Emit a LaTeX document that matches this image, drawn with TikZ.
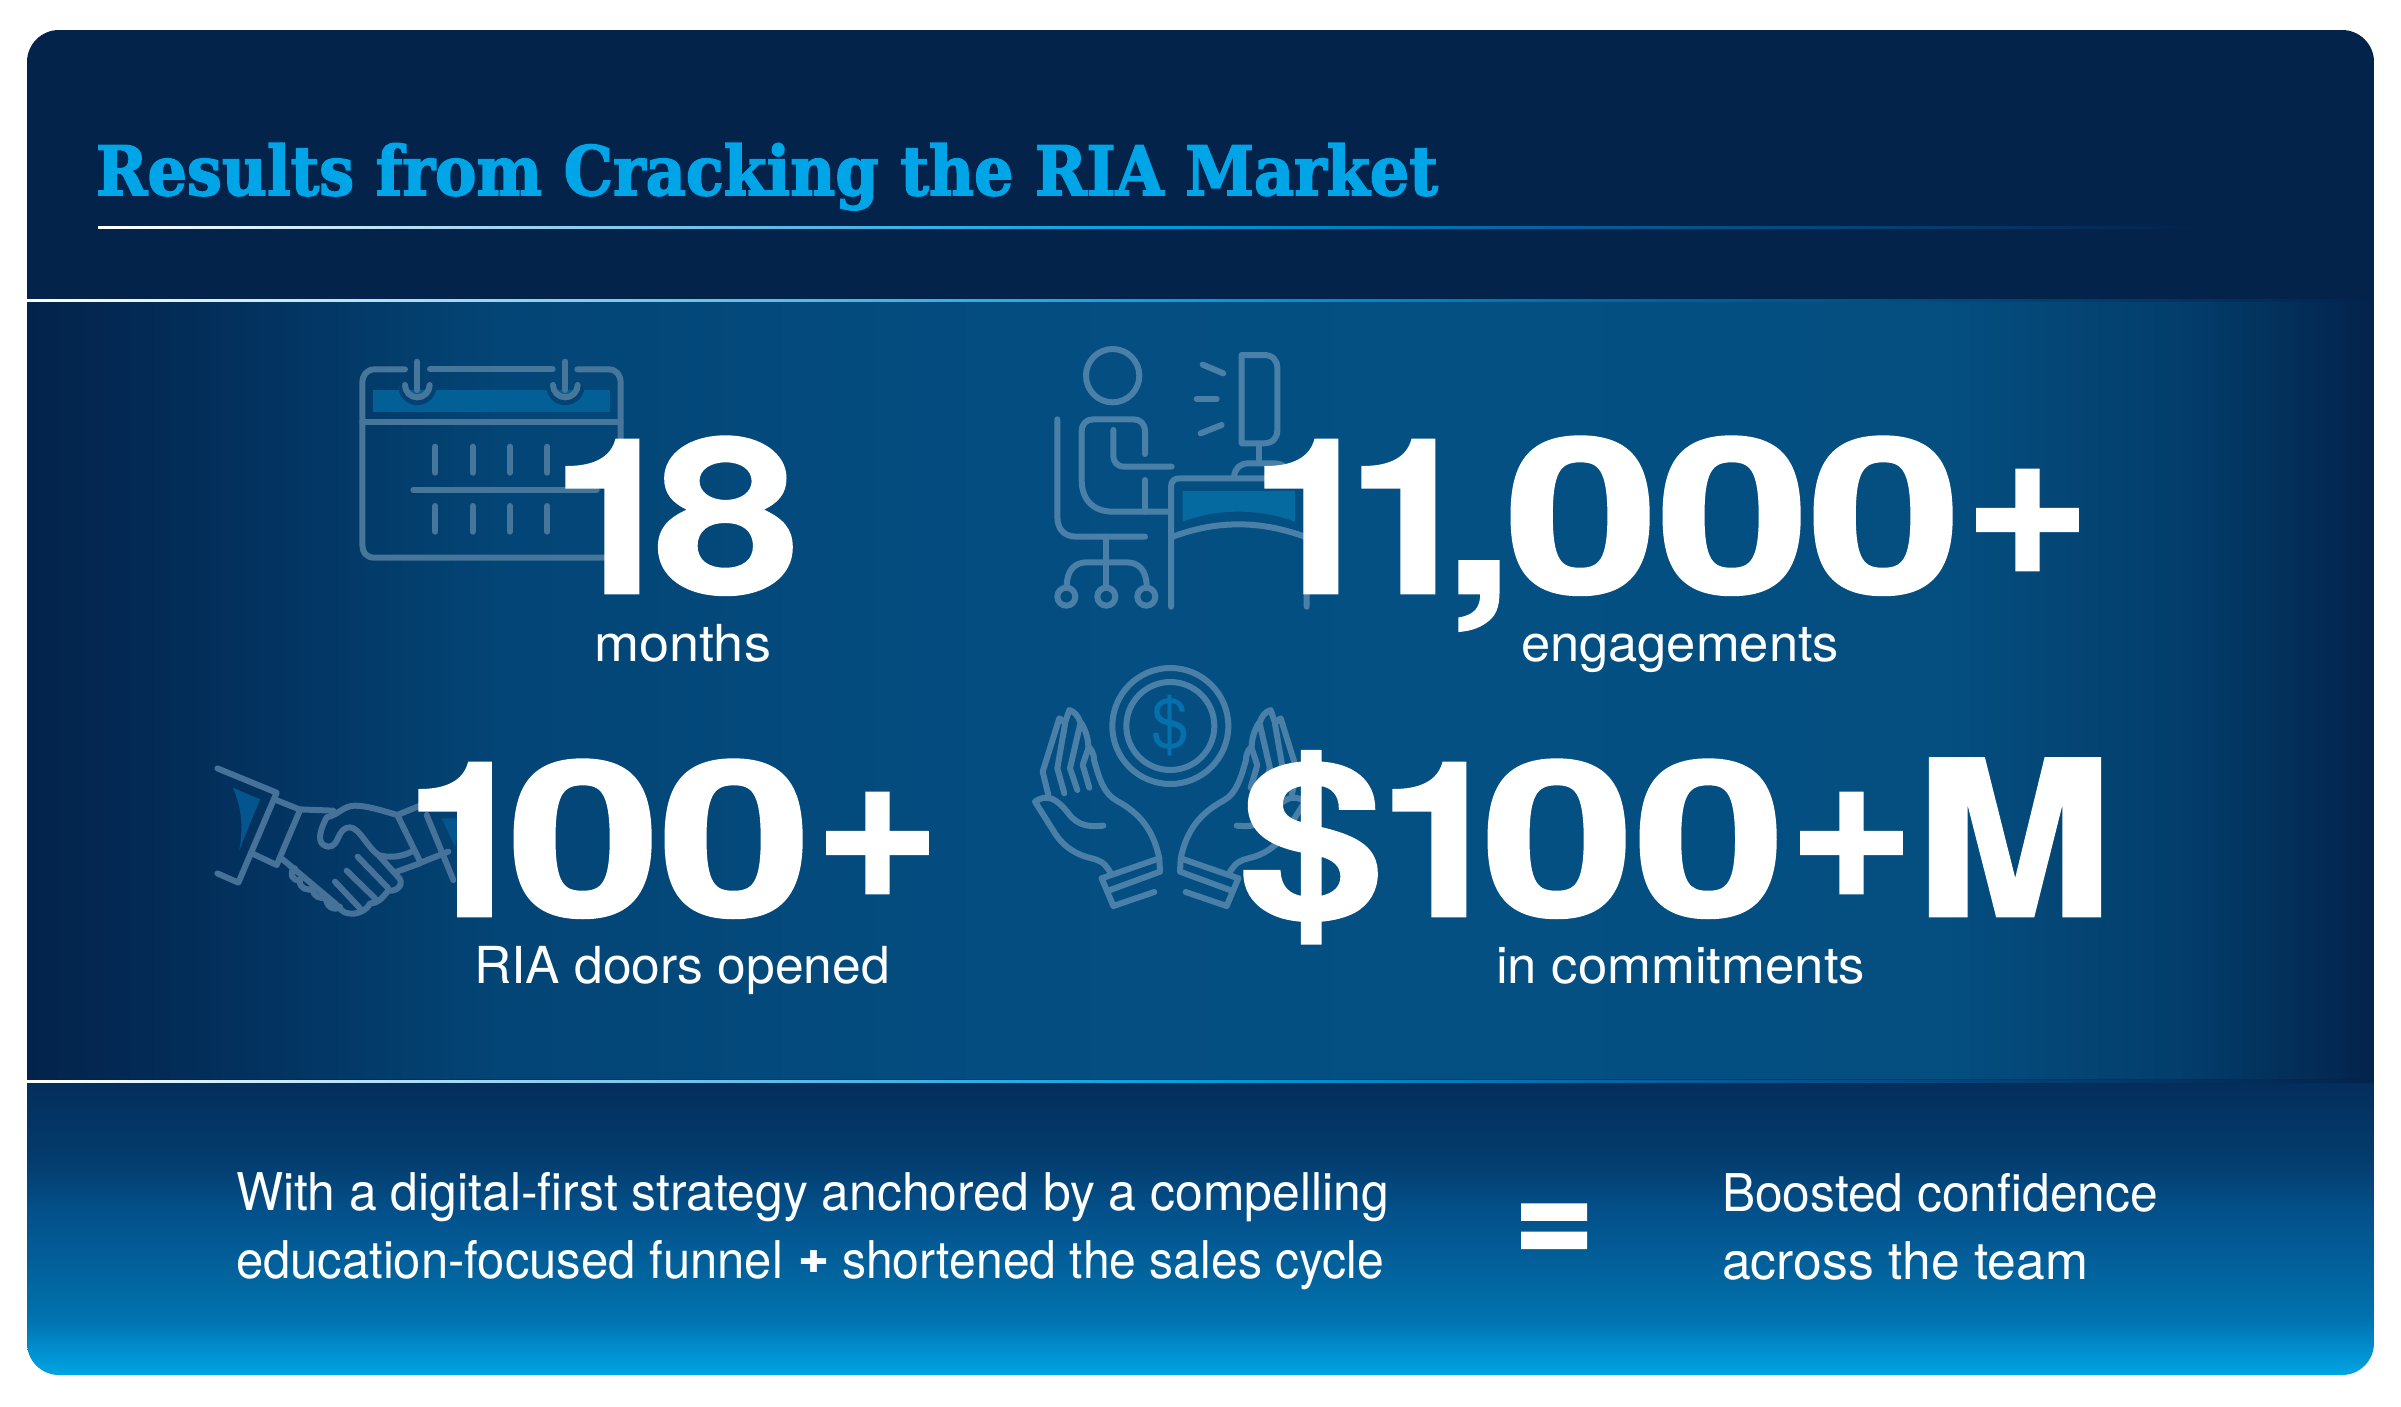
\documentclass[tikz,border=0pt]{standalone}
\usepackage{graphicx}
\usepackage{fontspec}
\setmainfont{TeX Gyre Heros}
\newfontfamily\bignum{TeX Gyre Heros}[BoldFeatures={FakeBold=1.2}]
\newfontfamily\titlef{DejaVu Serif}[BoldFeatures={FakeBold=2.5}]
\newfontfamily\symf{DejaVu Sans}
\usetikzlibrary{calc}
\definecolor{navy}{HTML}{03234B}
\definecolor{sky}{HTML}{00A5E8}
\definecolor{iconA}{HTML}{47769B}
\definecolor{iconB}{HTML}{4A80A8}
\definecolor{iconC}{HTML}{46729A}
\pgfdeclarehorizontalshading{midband}{100bp}{
 rgb(0bp)=(0.012,0.137,0.294);
 rgb(25bp)=(0.012,0.137,0.294);
 rgb(28bp)=(0.012,0.17,0.34);
 rgb(35bp)=(0.012,0.27,0.46);
 rgb(45bp)=(0.016,0.30,0.50);
 rgb(55bp)=(0.016,0.315,0.515);
 rgb(66bp)=(0.016,0.305,0.50);
 rgb(71bp)=(0.012,0.24,0.42);
 rgb(75bp)=(0.012,0.137,0.294);
 rgb(100bp)=(0.012,0.137,0.294)}
\pgfdeclareverticalshading{lowband}{100bp}{
 rgb(0bp)=(0,0.647,0.894);
 rgb(25bp)=(0,0.647,0.894);
 rgb(31bp)=(0.008,0.522,0.772);
 rgb(34.4bp)=(0,0.451,0.69);
 rgb(41.4bp)=(0.008,0.396,0.624);
 rgb(53bp)=(0.012,0.314,0.541);
 rgb(61.7bp)=(0.012,0.235,0.427);
 rgb(75bp)=(0.012,0.18,0.36);
 rgb(100bp)=(0.012,0.18,0.36)}
\pgfdeclarehorizontalshading{rulefade}{100bp}{
 rgb(0bp)=(1,1,1);
 rgb(25bp)=(1,1,1);
 rgb(39bp)=(0.45,0.76,0.92);
 rgb(50bp)=(0,0.62,0.88);
 rgb(60bp)=(0.02,0.37,0.62);
 rgb(75bp)=(0.012,0.137,0.294);
 rgb(100bp)=(0.012,0.137,0.294)}
\newsavebox\fitbox
\newcommand\fitto[2]{\sbox\fitbox{#2}\pgfmathsetmacro\fitr{#1/\the\wd\fitbox}\scalebox{\fitr}[1]{\usebox\fitbox}}
% one glyph of a big figure, its ink set between #1 and #2 from the node's origin
\def\bS{216}
\newcommand\gl[5]{\pgfmathsetmacro\gs{(#2-#1)/((#4-#3)/1000*\bS)}\pgfmathsetmacro\go{#1-#3/1000*\bS*\gs}\rlap{\kern\go pt\scalebox{\gs}[1]{#5}}}
\newcommand\gOne[2]{\gl{#1}{#2}{69}{378}{1}}
\newcommand\gZero[2]{\gl{#1}{#2}{32}{524}{0}}
\newcommand\gEight[2]{\gl{#1}{#2}{28}{528}{8}}
\newcommand\gComma[2]{\gl{#1}{#2}{64}{214}{,}}
\newcommand\gPlus[2]{\gl{#1}{#2}{39}{545}{\raisebox{19pt}{+}}}
\newcommand\gDollar[2]{\gl{#1}{#2}{30}{526}{\$}}
\newcommand\gEm[2]{\gl{#1}{#2}{69}{765}{M}}
\tikzset{
 txt/.style={anchor=base west,inner sep=0pt,outer sep=0pt,text=white},
 bignr/.style={txt,font=\bignum\bfseries\fontsize{216}{216}\selectfont},
 label/.style={txt,font=\fontsize{51}{51}\selectfont},
 body/.style={txt,font=\fontsize{52}{52}\selectfont},
 icon/.style={line width=6pt,line cap=round,line join=round,fill=none},
 zoomed/.style={x=0.33333pt,y=-0.33333pt}
}
\newcommand\handshape{%
 \draw[icon,draw=iconB] (418,625) .. controls (400,540) and (360,490) .. (290,452) .. controls (250,430) and (238,385) .. (222,330) .. controls (222,305) and (210,295) .. (205,290) .. controls (205,260) and (190,225) .. (180,215) .. controls (175,200) and (165,185) .. (148,180) -- (135,218) -- (118,205) -- (68,365) -- (85,435);
 \draw[icon,draw=iconB] (133,430) -- (112,355) -- (135,222);
 \draw[icon,draw=iconB] (172,420) -- (150,355) -- (180,225);
 \draw[icon,draw=iconB] (208,413) -- (188,345) -- (205,295);
 \draw[icon,draw=iconB] (270,665) .. controls (250,635) and (240,632) .. (215,625) .. controls (170,615) and (130,590) .. (105,550) -- (45,455) .. controls (80,430) and (110,445) .. (145,490) .. controls (175,530) and (210,530) .. (250,527);
 \draw[icon,draw=iconB] (245,685) -- (418,625) -- (420,665) -- (265,722);
 \draw[icon,draw=iconB] (245,685) -- (280,768) -- (403,726);
}
\begin{document}
\begin{tikzpicture}[x=1pt,y=-1pt]
\useasboundingbox (0,0) rectangle (2401,1406);
\fill[white] (0,0) rectangle (2401,1406);
\begin{scope}
 \clip[rounded corners=32pt] (27,30) rectangle (2374,1375);
 \fill[navy] (27,30) rectangle (2374,301);
 \shade[shading=midband] (27,300) rectangle (2374,1080);
 \shade[shading=lowband] (27,1081) rectangle (2374,1375);
 \fill[navy,opacity=0.55] (27,1078.5) rectangle (2374,1081);
 \shade[shading=rulefade] (27,299) rectangle (2374,301);
 \shade[shading=rulefade] (27,1080.7) rectangle (2374,1082.7);
\end{scope}
\shade[shading=rulefade] (98,226) rectangle (2200,228);

% calendar
\begin{scope}[shift={(330,330)},zoomed]
 \fill[fill={rgb,255:red,3;green,96;blue,150}] (128,180) rectangle (840,245);
 \foreach \rx in {262,706}{
  \draw[line width=5pt,draw={rgb,255:red,3;green,66;blue,115}] (\rx-50,168) arc[start angle=180,end angle=0,radius=50];
  \draw[icon,draw=iconA] (\rx-37,165) arc[start angle=180,end angle=0,radius=37];
  \draw[icon,draw=iconA] (\rx,95) -- (\rx,180);
 }
 \draw[icon,draw=iconA] (225,118) -- (135,118) .. controls (110,118) and (97,135) .. (97,160) -- (97,640) .. controls (97,670) and (110,683) .. (135,683) -- (830,683) .. controls (860,683) and (872,670) .. (872,640) -- (872,160) .. controls (872,135) and (860,118) .. (835,118) -- (742,118);
 \draw[icon,draw=iconA] (300,118) -- (668,118);
 \draw[icon,draw=iconA] (97,275) -- (872,275);
 \draw[icon,draw=iconA] (250,480) -- (800,480);
 \foreach \tx in {316,428,540,652}{
  \draw[icon,draw=iconA] (\tx,350) -- (\tx,428);
  \draw[icon,draw=iconA] (\tx,528) -- (\tx,605);
 }
\end{scope}

% person at desk
\begin{scope}[shift={(1030,330)},zoomed]
 \fill[fill={rgb,255:red,5;green,106;blue,160}] (458,483) -- (795,483) -- (795,575) .. controls (690,535) and (560,535) .. (458,575) -- cycle;
 \draw[icon,draw=iconB] (248,137) circle[radius=80];
 \draw[icon,draw=iconB] (82,268) -- (82,560) .. controls (82,600) and (105,620) .. (140,620) -- (345,620);
 \draw[icon,draw=iconB] (345,372) -- (345,305) .. controls (345,280) and (330,268) .. (310,268) -- (190,268) .. controls (170,268) and (155,280) .. (155,305) -- (155,450) .. controls (155,510) and (190,545) .. (250,545) -- (420,545);
 \draw[icon,draw=iconB] (250,300) -- (250,375) .. controls (250,398) and (262,410) .. (285,410) -- (425,410);
 \draw[icon,draw=iconB] (345,450) -- (345,545);
 \draw[icon,draw=iconB] (228,620) -- (228,770);
 \draw[icon,draw=iconB] (110,770) .. controls (110,720) and (135,697) .. (170,697) -- (290,697) .. controls (325,697) and (350,720) .. (350,770);
 \foreach \wx in {109,229,349} \draw[icon,draw=iconB] (\wx,800) circle[radius=27];
 \draw[icon,draw=iconB] (423,830) -- (423,470) .. controls (423,453) and (433,445) .. (450,445) -- (805,445) .. controls (822,445) and (830,453) .. (830,470) -- (830,830);
 \draw[icon,draw=iconB] (423,622) .. controls (560,570) and (690,570) .. (830,622);
 \draw[icon,draw=iconB] (612,440) .. controls (615,415) and (630,400) .. (655,400) -- (730,400) .. controls (760,400) and (775,415) .. (780,440);
 \draw[icon,draw=iconB] (688,345) -- (688,400);
 \draw[icon,draw=iconB] (635,75) -- (700,75) .. controls (728,75) and (742,90) .. (742,115) -- (742,300) .. controls (742,325) and (728,340) .. (700,340) -- (635,340) -- cycle;
 \draw[icon,draw=iconB] (518,104) -- (580,130);
 \draw[icon,draw=iconB] (500,207) -- (560,207);
 \draw[icon,draw=iconB] (512,310) -- (575,285);
\end{scope}

% handshake
\begin{scope}[shift={(200,740)},zoomed]
 \fill[fill={rgb,255:red,4;green,85;blue,142}] (98,143) -- (180,178) -- (118,330) .. controls (130,260) and (125,200) .. (98,143) -- cycle;
 \fill[fill={rgb,255:red,4;green,85;blue,142}] (725,235) -- (790,235) -- (765,320) -- cycle;
 \draw[icon,draw=iconC] (52,85) -- (230,158) -- (115,428) -- (52,400);
 \draw[icon,draw=iconC] (160,342) -- (230,375) -- (298,215);
 \draw[icon,draw=iconC] (228,180) -- (298,208) -- (400,212);
 \draw[icon,draw=iconC] (592,225) -- (662,368) -- (745,335);
 \draw[icon,draw=iconC] (680,225) -- (760,420);
 \draw[icon,draw=iconC] (592,225) -- (665,195);
 \draw[icon,draw=iconC] (592,225) .. controls (540,210) and (500,197) .. (465,197) .. controls (430,197) and (415,225) .. (380,232) .. controls (355,280) and (350,315) .. (385,320) .. controls (420,320) and (410,262) .. (450,262) .. controls (480,265) and (500,320) .. (535,345) -- (598,415) .. controls (612,435) and (590,455) .. (565,452) .. controls (545,475) and (535,490) .. (510,490) .. controls (500,512) and (470,525) .. (445,520) .. controls (430,520) and (420,505) .. (405,490);
 \draw[icon,draw=iconC] (248,358) -- (405,490);
 \draw[icon,draw=iconC] (473,350) -- (565,445);
 \draw[icon,draw=iconC] (440,392) -- (525,475);
 \draw[icon,draw=iconC] (405,425) -- (480,505);
 \draw[icon,draw=iconC] (535,345) .. controls (570,355) and (605,350) .. (635,335);
 \draw[icon,draw=iconC] (590,395) -- (660,370);
 \draw[icon,draw=iconC] (285,385) .. controls (265,395) and (275,425) .. (300,420) .. controls (295,445) and (325,455) .. (340,445) .. controls (335,470) and (365,480) .. (378,470) .. controls (375,500) and (405,515) .. (420,500);
\end{scope}

% hands with coin
\begin{scope}[shift={(1020,650)},zoomed]
 \draw[icon,draw=iconB] (451,228) circle[radius=174];
 \draw[icon,draw=iconB] (451,228) circle[radius=132];
 \node[anchor=center,inner sep=0pt,text={rgb,255:red,6;green,112;blue,172},font=\fontsize{68}{68}\selectfont] (coinsign) at (451,228) {\$};
 \handshape
 \begin{scope}[shift={(900,0)},xscale=-1]
  \handshape
 \end{scope}
\end{scope}

% big figures
\node[bignr] (n18) at (550,593) {\gOne{17}{88}\gEight{111}{242}\kern242pt};
\node[bignr] (n11k) at (1250,593) {\gOne{16}{87}\gOne{113}{184}\gComma{210}{248}\gZero{263}{400}\gZero{415}{551}\gZero{566}{703}\gPlus{723}{832}\kern832pt};
\node[bignr] (n100) at (400,916) {\gOne{20}{90.5}\gZero{116}{252}\gZero{267}{403}\gPlus{423}{532}\kern532pt};
\node[bignr] (n100m) at (1240,916) {\gDollar{7}{136}\gOne{154}{225}\gZero{250}{386}\gZero{402}{537}\gPlus{557}{666}\gEm{691}{857}\kern857pt};

\node[label] (lmonths) at (594,661) {\fitto{177}{months}};
\node[label] (lengage) at (1521,661) {\fitto{318}{engagements}};
\node[label] (lria) at (474,983) {\fitto{416}{RIA doors opened}};
\node[label] (lcommit) at (1496,983) {\fitto{369}{in commitments}};

\node[txt,text=sky,font=\titlef\bfseries\fontsize{68}{68}\selectfont] (title) at (96,195) {\fitto{1342}{Results from Cracking the RIA Market}};

\node[body] (b1) at (236,1210) {\fitto{1153}{With a digital-first strategy anchored by a compelling}};
\node[body] (b2a) at (236,1278) {\fitto{547}{education-focused funnel}};
\node[body,font=\symf\fontsize{30}{30}\selectfont] (bplus) at (799,1272) {\fitto{29}{✚}};
\node[body] (b2b) at (842,1278) {\fitto{542}{shortened the sales cycle}};
\node[txt,font=\bignum\bfseries\fontsize{155}{155}\selectfont] (eq) at (1513.5,1265) {\fitto{81}{=}};
\node[body] (c1) at (1722,1211) {\fitto{436}{Boosted confidence}};
\node[body] (c2) at (1722,1279) {\fitto{366}{across the team}};
\end{tikzpicture}
\end{document}
